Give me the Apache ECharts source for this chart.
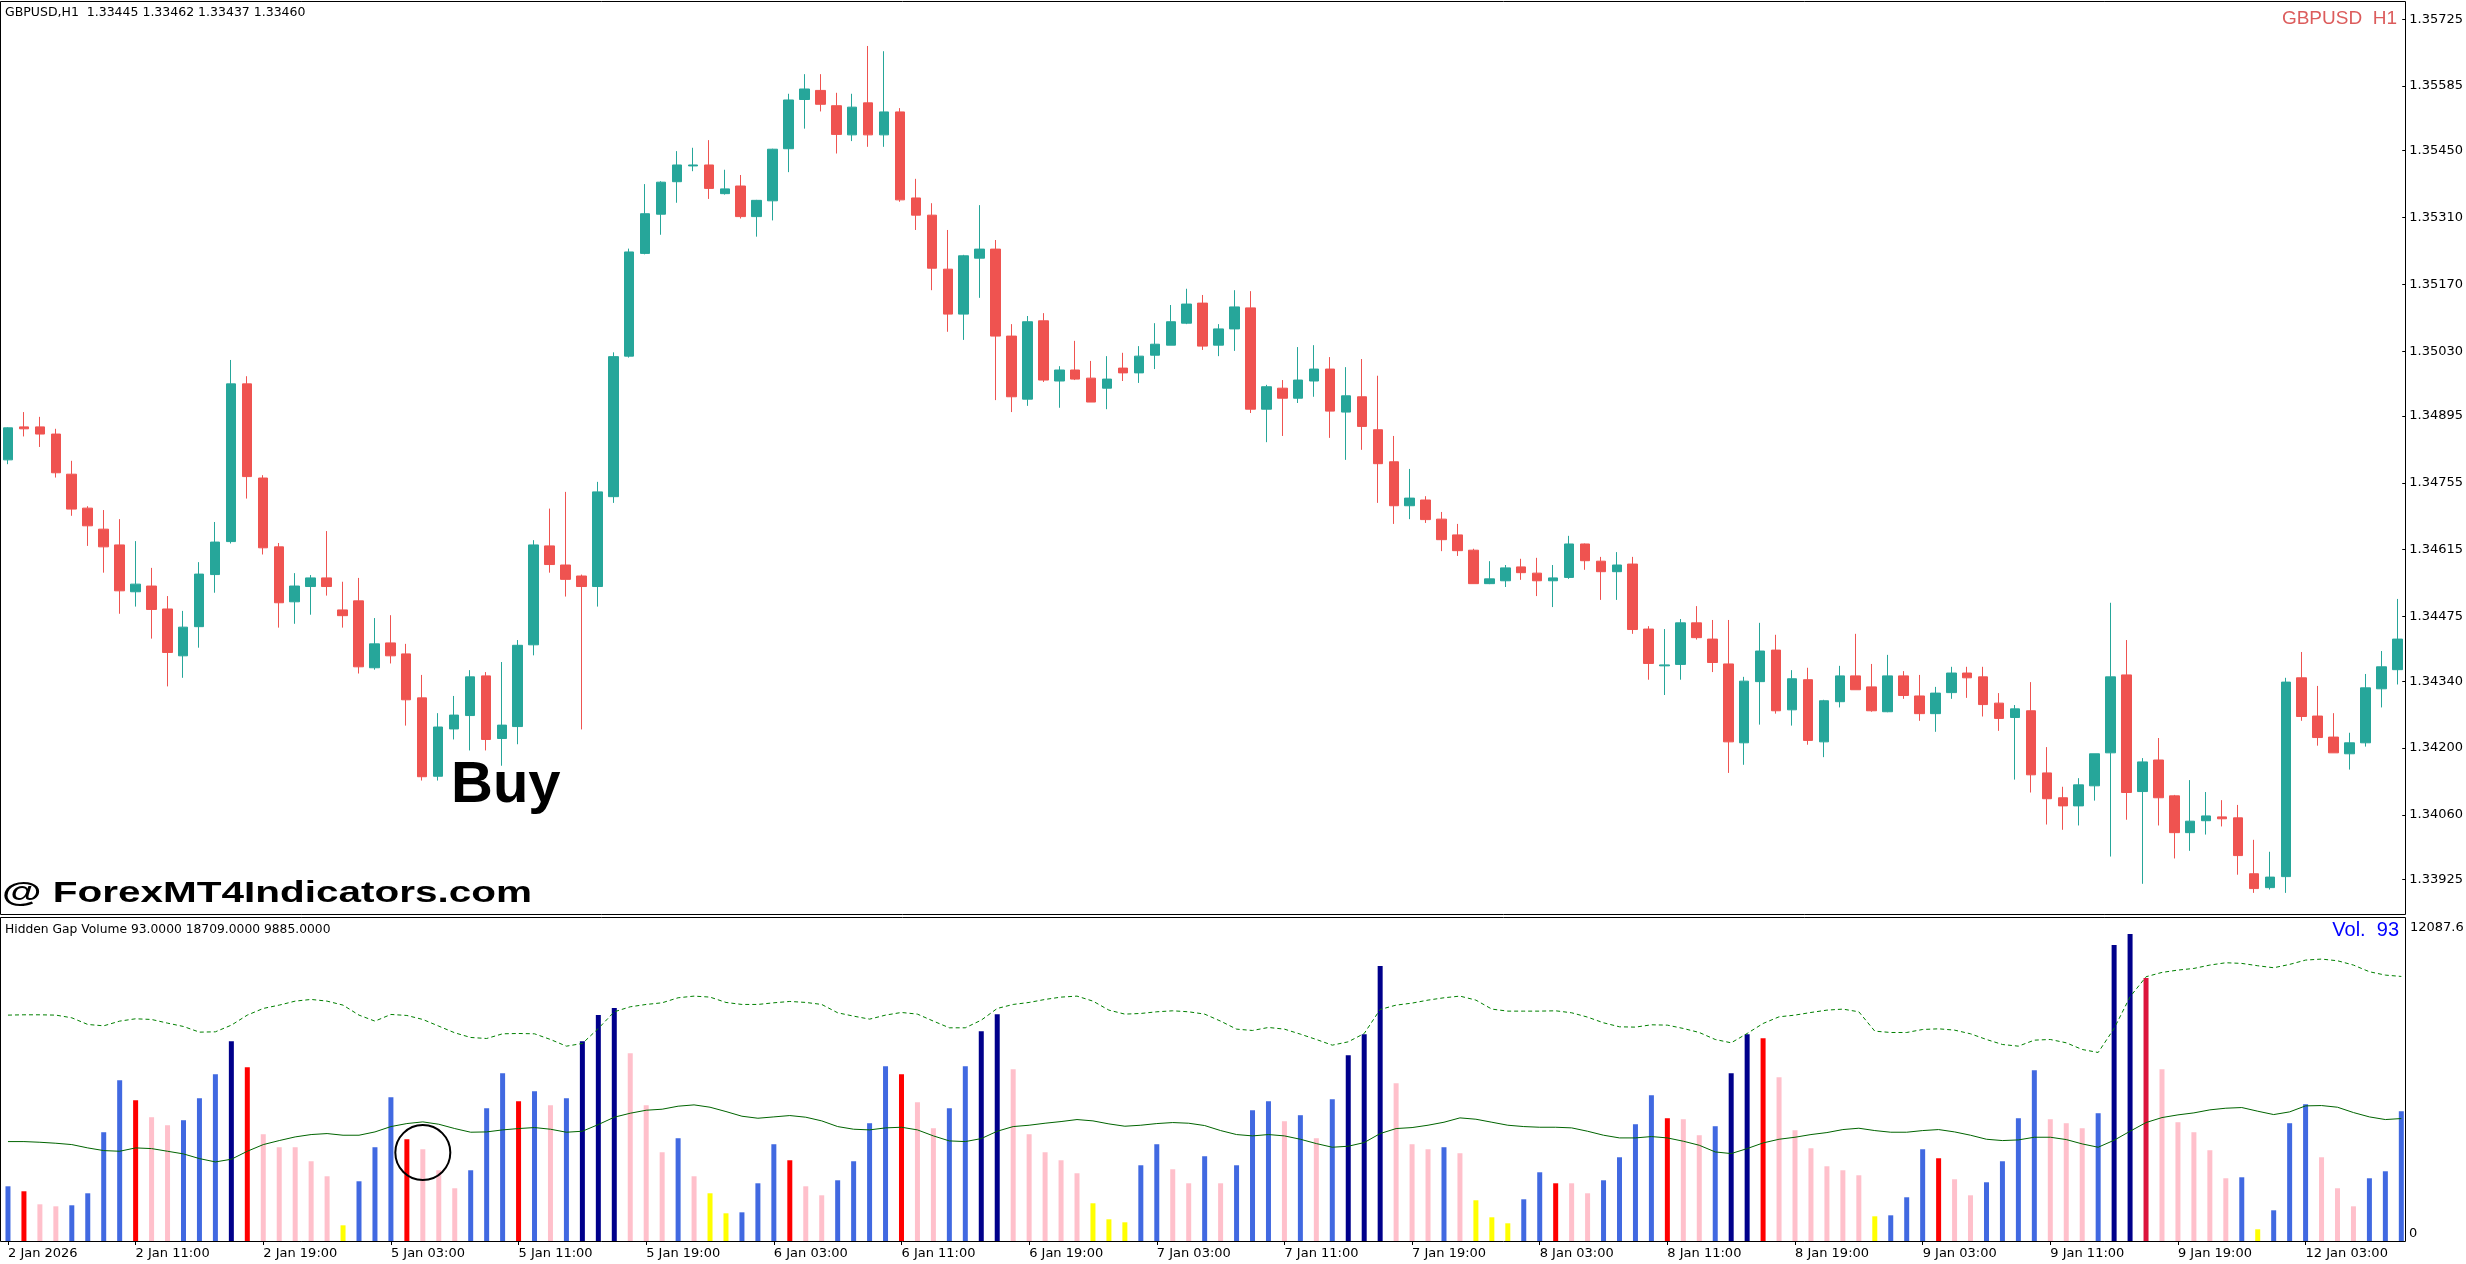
<!DOCTYPE html>
<html><head><meta charset="utf-8">
<script src="https://cdn.jsdelivr.net/npm/echarts@6/dist/echarts.min.js"></script>
<style>html,body{margin:0;padding:0;background:#fff;}#c{width:2466px;height:1264px;}</style>
</head><body><div id="c"></div>
<script>
// ---- categories (H1 bars) ----
const daySegments = [['2 Jan',3,23],['5 Jan',0,23],['6 Jan',0,23],['7 Jan',0,23],['8 Jan',0,23],['9 Jan',0,23],['12 Jan',0,9]];
const categories = [];
daySegments.forEach(function(s){ for (let h = s[1]; h <= s[2]; h++) categories.push(s[0] + ' ' + String(h).padStart(2,'0') + ':00'); });
const firstTickLabel = '2 Jan 2026';
const priceTicks = [1.35725,1.35585,1.35450,1.35310,1.35170,1.35030,1.34895,1.34755,1.34615,1.34475,1.34340,1.34200,1.34060,1.33925];

// ---- GBPUSD H1 OHLC ----
const opens = [1.34803,1.34872,1.34872,1.34857,1.34773,1.34702,1.34658,1.34625,1.34527,1.34539,
1.34491,1.34393,1.34454,1.34563,1.34632,1.34962,1.34765,1.34621,1.34506,1.34538,
1.34556,1.34489,1.34508,1.34368,1.34420,1.34397,1.34305,1.34141,1.34240,1.34268,
1.34351,1.34220,1.34245,1.34416,1.34623,1.34583,1.34560,1.34538,1.34726,1.35020,
1.35235,1.35317,1.35385,1.35418,1.35420,1.35360,1.35376,1.35312,1.35345,1.35454,
1.35557,1.35576,1.35544,1.35483,1.35550,1.35483,1.35531,1.35351,1.35315,1.35202,
1.35108,1.35225,1.35244,1.35062,1.34930,1.35094,1.34968,1.34991,1.34974,1.34953,
1.34995,1.34985,1.35022,1.35043,1.35089,1.35131,1.35043,1.35077,1.35121,1.34909,
1.34953,1.34932,1.34968,1.34993,1.34903,1.34935,1.34866,1.34799,1.34707,1.34719,
1.34679,1.34646,1.34614,1.34544,1.34550,1.34579,1.34566,1.34550,1.34557,1.34627,
1.34591,1.34569,1.34585,1.34449,1.34372,1.34375,1.34462,1.34428,1.34376,1.34211,
1.34339,1.34405,1.34280,1.34343,1.34213,1.34297,1.34351,1.34328,1.34276,1.34351,
1.34309,1.34272,1.34316,1.34357,1.34349,1.34294,1.34264,1.34278,1.34148,1.34096,
1.34079,1.34121,1.34190,1.34353,1.34109,1.34175,1.34100,1.34023,1.34048,1.34056,
1.34054,1.33937,1.33908,1.33931,1.34347,1.34267,1.34223,1.34188,1.34211,1.34324,
1.34364];
const highs = [1.34871,1.34903,1.34893,1.34868,1.34801,1.34706,1.34698,1.34679,1.34633,1.34577,
1.34518,1.34487,1.34589,1.34673,1.35012,1.34978,1.34771,1.34629,1.34566,1.34562,
1.34654,1.34548,1.34556,1.34472,1.34478,1.34418,1.34353,1.34273,1.34309,1.34363,
1.34359,1.34380,1.34426,1.34635,1.34701,1.34736,1.34563,1.34757,1.35028,1.35245,
1.35380,1.35386,1.35449,1.35456,1.35472,1.35410,1.35399,1.35347,1.35454,1.35569,
1.35610,1.35610,1.35571,1.35569,1.35669,1.35658,1.35539,1.35391,1.35340,1.35284,
1.35232,1.35336,1.35263,1.35087,1.35104,1.35110,1.34999,1.35052,1.35010,1.35020,
1.35027,1.35041,1.35089,1.35127,1.35161,1.35148,1.35087,1.35158,1.35156,1.34960,
1.34970,1.35039,1.35043,1.35018,1.34997,1.35014,1.34979,1.34853,1.34784,1.34727,
1.34694,1.34669,1.34617,1.34591,1.34583,1.34596,1.34598,1.34583,1.34644,1.34628,
1.34600,1.34610,1.34600,1.34455,1.34449,1.34470,1.34497,1.34468,1.34468,1.34349,
1.34462,1.34437,1.34363,1.34368,1.34301,1.34372,1.34439,1.34376,1.34395,1.34361,
1.34353,1.34328,1.34370,1.34370,1.34370,1.34315,1.34290,1.34338,1.34202,1.34119,
1.34137,1.34188,1.34504,1.34426,1.34179,1.34221,1.34102,1.34133,1.34108,1.34091,
1.34081,1.34008,1.33983,1.34347,1.34401,1.34330,1.34273,1.34232,1.34355,1.34403,
1.34512];
const lows = [1.34794,1.34852,1.34830,1.34766,1.34686,1.34623,1.34567,1.34481,1.34496,1.34429,
1.34329,1.34347,1.34410,1.34525,1.34628,1.34722,1.34605,1.34452,1.34460,1.34479,
1.34519,1.34452,1.34356,1.34364,1.34377,1.34247,1.34132,1.34132,1.34218,1.34195,
1.34195,1.34163,1.34208,1.34394,1.34567,1.34517,1.34239,1.34496,1.34713,1.35017,
1.35233,1.35274,1.35341,1.35407,1.35349,1.35358,1.35308,1.35270,1.35304,1.35405,
1.35496,1.35532,1.35444,1.35470,1.35458,1.35458,1.35343,1.35284,1.35158,1.35071,
1.35054,1.35142,1.34928,1.34903,1.34916,1.34966,1.34912,1.34970,1.34924,1.34909,
1.34968,1.34964,1.34993,1.35043,1.35087,1.35033,1.35020,1.35031,1.34901,1.34840,
1.34853,1.34922,1.34935,1.34849,1.34803,1.34824,1.34713,1.34669,1.34679,1.34671,
1.34612,1.34602,1.34544,1.34543,1.34537,1.34552,1.34518,1.34495,1.34554,1.34573,
1.34510,1.34510,1.34439,1.34343,1.34311,1.34343,1.34427,1.34359,1.34148,1.34165,
1.34249,1.34272,1.34247,1.34207,1.34181,1.34285,1.34322,1.34276,1.34275,1.34303,
1.34257,1.34234,1.34303,1.34305,1.34266,1.34236,1.34134,1.34107,1.34040,1.34029,
1.34038,1.34090,1.33973,1.34050,1.33916,1.34038,1.33969,1.33985,1.34019,1.34036,
1.33935,1.33897,1.33904,1.33897,1.34257,1.34205,1.34190,1.34155,1.34203,1.34285,
1.34333];
const closes = [1.34870,1.34868,1.34857,1.34776,1.34700,1.34665,1.34621,1.34529,1.34543,1.34490,
1.34400,1.34453,1.34564,1.34631,1.34962,1.34768,1.34619,1.34504,1.34539,1.34556,
1.34538,1.34477,1.34370,1.34418,1.34393,1.34301,1.34140,1.34244,1.34269,1.34349,
1.34218,1.34248,1.34415,1.34625,1.34584,1.34553,1.34538,1.34736,1.35019,1.35238,
1.35318,1.35384,1.35420,1.35420,1.35371,1.35370,1.35312,1.35346,1.35453,1.35556,
1.35579,1.35547,1.35484,1.35541,1.35483,1.35531,1.35347,1.35315,1.35204,1.35108,
1.35230,1.35244,1.35062,1.34935,1.35092,1.34970,1.34991,1.34972,1.34924,1.34972,
1.34985,1.35020,1.35045,1.35092,1.35129,1.35041,1.35077,1.35123,1.34909,1.34956,
1.34932,1.34970,1.34993,1.34905,1.34937,1.34873,1.34795,1.34707,1.34723,1.34678,
1.34636,1.34613,1.34544,1.34554,1.34577,1.34567,1.34550,1.34556,1.34627,1.34592,
1.34569,1.34583,1.34448,1.34377,1.34374,1.34462,1.34431,1.34379,1.34213,1.34340,
1.34403,1.34278,1.34345,1.34216,1.34299,1.34351,1.34322,1.34278,1.34351,1.34310,
1.34272,1.34315,1.34357,1.34347,1.34291,1.34262,1.34282,1.34144,1.34094,1.34079,
1.34123,1.34188,1.34349,1.34107,1.34171,1.34096,1.34023,1.34047,1.34058,1.34052,
1.33975,1.33906,1.33930,1.34338,1.34266,1.34222,1.34190,1.34211,1.34326,1.34370,
1.34428];

// ---- Hidden Gap Volume ----
const volumes = [2041,1855,1369,1294,1332,1780,4058,5999,5253,4618,
4319,4506,5327,6224,7456,6485,3983,3498,3498,2975,
2415,585,2228,3498,5365,3796,3423,2639,1967,2639,
4954,6261,5215,5589,5066,5327,7456,8427,8688,7008,
5066,3311,3834,2415,1780,1033,1070,2153,3610,3012,
2041,1705,2265,2975,4394,6522,6224,5178,4207,4954,
6522,7829,8464,6410,3983,3311,3012,2527,1407,809,
697,2825,3610,2676,2153,3162,2153,2825,4879,5215,
4468,4693,3834,5290,6933,7717,10256,5887,3610,3423,
3498,3274,1519,884,660,1556,2564,2153,2153,1780,
2265,3124,4356,5439,4580,4543,3946,4282,6261,7717,
7568,6111,4132,3460,2788,2639,2452,921,958,1631,
3423,3087,2303,1705,2191,2975,4580,6373,4543,4394,
4207,4767,11040,11451,9808,6410,4431,4058,3386,2340,
2377,436,1145,4394,5103,3124,1967,1294,2340,2601,
4842];
// B=up, N=strong up, R=down, P=weak down, Y=low, C=climax down
const volumeClass = ('BRPPBBBBRP'+'PBBBNRPPPP'+'PYBBBRPPPB'+'BBRBPBNNNP'+'PPBPYYBBBR'+'PP'+
  'BBBBRPPBBN'+'NPPPPPYYYB'+'BPPBPBBBPB'+'PBNNNPPPBP'+'YYYBBRPPBB'+'B'+
  'BRPPBNNRPP'+'PPPPYBBBRP'+'PBBBBPPPBN'+'NCPPPPPBYB'+'BBPPPBBB').split('');
const volumeMA = [3709,3709,3684,3647,3597,3473,3373,3348,3473,3448,
3348,3249,3074,2950,3050,3348,3597,3747,3883,3971,
4008,3946,3946,4070,4269,4381,4444,4356,4195,4058,
4070,4145,4195,4232,4170,4058,4095,4344,4618,4767,
4879,4917,5029,5078,4991,4829,4655,4580,4630,4680,
4618,4481,4269,4170,4145,4220,4244,4145,3921,3734,
3709,3821,4095,4269,4319,4394,4456,4531,4481,4369,
4282,4319,4381,4419,4394,4307,4120,3971,3921,3971,
3921,3796,3635,3498,3535,3672,4008,4195,4232,4319,
4431,4593,4543,4431,4319,4269,4244,4244,4220,4095,
3946,3846,3846,3896,3846,3722,3572,3323,3261,3448,
3659,3796,3871,3971,4045,4157,4207,4120,4058,4058,
4120,4157,4070,3946,3796,3747,3771,3871,3871,3784,
3622,3498,3759,4095,4419,4605,4705,4780,4892,4954,
4979,4842,4717,4817,5041,5053,4991,4792,4630,4531,
4568];
const volumeUpper = [8427,8439,8439,8427,8327,8078,8028,8203,8290,8265,
8128,8003,7792,7804,8053,8427,8676,8800,8949,9012,
8949,8800,8427,8203,8452,8414,8265,8016,7767,7593,
7555,7730,7742,7730,7518,7269,7369,7929,8551,8738,
8825,8887,9074,9136,9099,8900,8825,8825,8887,8937,
8900,8825,8514,8389,8277,8427,8526,8464,8203,7954,
7954,8240,8676,8825,8900,9012,9099,9136,8949,8613,
8464,8489,8551,8588,8551,8464,8203,7904,7854,7966,
7904,7717,7518,7306,7431,7742,8638,8800,8875,8987,
9074,9136,8987,8651,8576,8576,8576,8588,8514,8352,
8140,7991,7979,8066,8053,7929,7779,7518,7394,7742,
8115,8364,8427,8526,8613,8651,8551,7829,7779,7779,
7891,7916,7867,7730,7518,7331,7269,7493,7518,7394,
7145,7033,7929,9111,9858,10020,10107,10169,10294,10381,
10356,10269,10194,10319,10480,10518,10455,10294,10045,9920,
9870];
const circledBar = 26, circledValue = 3300;

// ---- styles / layout ----
const classColor = {B:'#4169E1', N:'#00008B', R:'#FF0000', P:'#FFC0CB', Y:'#FFFF00', C:'#DC143C'};
const upColor = '#26A69A', downColor = '#EF5350';
const axisFont = 'DejaVu Sans';
const priceMin = 1.338507, priceMax = 1.357631, volMax = 12087.6;

const chart = echarts.init(document.getElementById('c'), null, {renderer:'canvas', width:2466, height:1264, devicePixelRatio:1});
const candleData = opens.map(function(o,i){ return [o, closes[i], lows[i], highs[i]]; });
const volData = volumes.map(function(v,i){ return {value:v, itemStyle:{color: classColor[volumeClass[i]]}}; });

chart.setOption({
  animation: false,
  backgroundColor: '#ffffff',
  grid: [
    {left: -6.7, top: 1, width: 2416, height: 914},
    {left: -6.7, top: 917, width: 2416, height: 324}
  ],
  xAxis: [
    {type:'category', gridIndex:0, data:categories, boundaryGap:true,
     axisLine:{show:false}, axisTick:{show:false}, axisLabel:{show:false}, splitLine:{show:false}},
    {type:'category', gridIndex:1, data:categories, boundaryGap:true,
     axisLine:{show:false},
     axisTick:{show:true, alignWithLabel:true, interval:7, length:4, lineStyle:{color:'#000', width:1}},
     axisLabel:{show:true, interval:7, align:'left', margin:6,
       fontFamily:axisFont, fontSize:13, color:'#000',
       formatter:function(v,i){ return i === 0 ? firstTickLabel : v; }},
     splitLine:{show:false}}
  ],
  yAxis: [
    {type:'value', gridIndex:0, position:'right', min:priceMin, max:priceMax, scale:true,
     axisLine:{show:false}, splitLine:{show:false},
     axisTick:{show:true, inside:true, length:3, customValues:priceTicks, lineStyle:{color:'#000'}},
     axisLabel:{show:true, margin:4, customValues:priceTicks, fontFamily:axisFont, fontSize:13, color:'#000',
       formatter:function(v){ return Number(v).toFixed(5); }}},
    {type:'value', gridIndex:1, position:'right', min:0, max:volMax, show:false, splitLine:{show:false}}
  ],
  series: [
    {type:'candlestick', xAxisIndex:0, yAxisIndex:0, data:candleData, barWidth:10,
     itemStyle:{color:upColor, color0:downColor, borderColor:upColor, borderColor0:downColor, borderWidth:1}},
    {type:'bar', xAxisIndex:1, yAxisIndex:1, data:volData, barWidth:5},
    {type:'line', xAxisIndex:1, yAxisIndex:1, data:volumeMA, showSymbol:false, symbol:'none',
     lineStyle:{color:'#006400', width:1}, z:5},
    {type:'line', xAxisIndex:1, yAxisIndex:1, data:volumeUpper, showSymbol:false, symbol:'none',
     lineStyle:{color:'#008000', width:1, type:[4,3]}, z:5}
  ]
});

const pMax = chart.convertToPixel({yAxisIndex:1}, volMax);
const pZero = chart.convertToPixel({yAxisIndex:1}, 0);
const circ = chart.convertToPixel({gridIndex:1}, [circledBar, circledValue]);

chart.setOption({
  graphic: [
    {type:'rect', shape:{x:0.5, y:1.5, width:2405, height:913}, style:{fill:null, stroke:'#000', lineWidth:1}, z:100},
    {type:'rect', shape:{x:0.5, y:917.5, width:2405, height:324}, style:{fill:null, stroke:'#000', lineWidth:1}, z:100},
    {type:'text', x:5, y:12.5, style:{text:'GBPUSD,H1  1.33445 1.33462 1.33437 1.33460', fill:'#000', font:'12.5px "DejaVu Sans"', textVerticalAlign:'middle'}, z:100},
    {type:'text', x:5, y:929.5, style:{text:'Hidden Gap Volume 93.0000 18709.0000 9885.0000', fill:'#000', font:'12.3px "DejaVu Sans"', textVerticalAlign:'middle'}, z:100},
    {type:'text', x:2397, y:19, style:{text:'GBPUSD  H1', fill:'#DC5C5C', font:'19px "Liberation Sans"', textAlign:'right', textVerticalAlign:'middle'}, z:100},
    {type:'text', x:2399, y:930.5, style:{text:'Vol.  93', fill:'#0000FF', font:'20px "Liberation Sans"', textAlign:'right', textVerticalAlign:'middle'}, z:100},
    {type:'text', x:451, y:786, style:{text:'Buy', fill:'#000', font:'bold 58px "Liberation Sans"', textVerticalAlign:'middle'}, z:100},
    {type:'text', x:2, y:894, scaleX:1.35, style:{text:'@ ForexMT4Indicators.com', fill:'#000', font:'bold 30px "Liberation Sans"', textVerticalAlign:'middle'}, z:100},
    {type:'text', x:2410, y:pMax + 11, style:{text:'12087.6', fill:'#000', font:'13px "DejaVu Sans"', textVerticalAlign:'middle'}, z:100},
    {type:'text', x:2409, y:pZero - 7.5, style:{text:'0', fill:'#000', font:'13px "DejaVu Sans"', textVerticalAlign:'middle'}, z:100},
    {type:'circle', shape:{cx:circ[0], cy:circ[1], r:27.5}, style:{fill:null, stroke:'#000', lineWidth:2}, z:100}
  ]
});
</script></body></html>
